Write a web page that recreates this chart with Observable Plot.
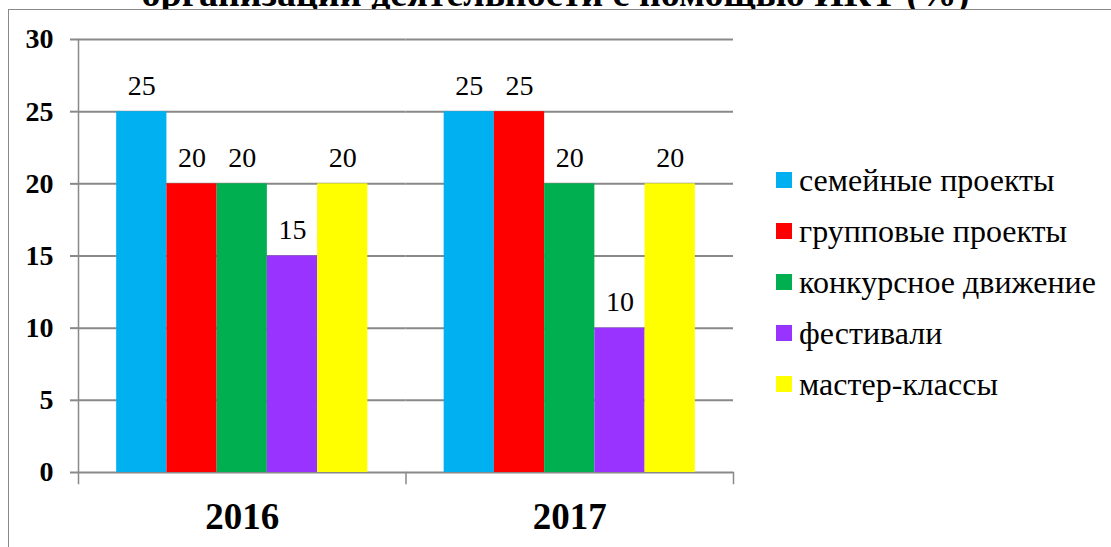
<!DOCTYPE html>
<html><head><meta charset="utf-8">
<script src="https://cdn.jsdelivr.net/npm/d3@7"></script>
<script src="https://cdn.jsdelivr.net/npm/@observablehq/plot@0.6"></script>
<style>
body{margin:0;background:#fff;width:1111px;height:547px;overflow:hidden;position:relative;font-family:"Liberation Serif";}
#title{position:absolute;left:0;width:1111px;top:-26px;text-align:center;font-family:"Liberation Serif";font-weight:bold;font-size:38px;line-height:1;white-space:nowrap;color:#000;}
#frame{position:absolute;left:8px;top:9px;width:1200px;height:600px;border:1px solid #898989;background:#fff;}
#chart{position:absolute;left:0;top:0;}
#legend{position:absolute;left:776px;top:154px;font-family:"Liberation Serif";}
.row{display:flex;align-items:center;height:51px;font-size:32px;line-height:1;white-space:nowrap;color:#000;font-family:"Liberation Serif";}
.sw{width:16px;height:16px;margin-right:7px;flex:none;}
</style>
</head><body>
<div id="title">организации деятельности с помощью ИКТ (%)</div>
<div id="frame"></div>
<div id="chart"></div>
<div id="legend"></div>
<script>
const years = ["2016", "2017"];
const series = ["семейные проекты", "групповые проекты", "конкурсное движение", "фестивали", "мастер-классы"];
const colors = ["#00B0F0", "#FF0000", "#00B050", "#9933FF", "#FFFF00"];
const values2016 = [25, 20, 20, 15, 20];
const values2017 = [25, 25, 20, 10, 20];
const yTicks = [0, 5, 10, 15, 20, 25, 30];

const valuesByYear = {"2016": values2016, "2017": values2017};
const data = [];
years.forEach(yr => series.forEach((s, j) => data.push({year: yr, series: s, value: valuesByYear[yr][j]})));

const W = 1111, H = 547, mL = 78, mR = 378, mT = 39, mB = 75;
const plotH = H - mT - mB;
const gray = "#898989";
const serif = "Liberation Serif";

const chart = Plot.plot({
  width: W, height: H,
  marginLeft: mL, marginRight: mR, marginTop: mT, marginBottom: mB,
  style: {fontFamily: "'Liberation Serif'", background: "transparent", overflow: "visible", color: "#000"},
  fx: {domain: years, padding: 0, round: false, label: null},
  x: {domain: series, paddingInner: 0, paddingOuter: 0.76, round: false, axis: null},
  y: {domain: [0, 30], label: null},
  color: {domain: series, range: colors},
  marks: [
    Plot.gridY(yTicks, {stroke: gray, strokeOpacity: 1, strokeWidth: 2}),
    Plot.axisY(yTicks, {tickSize: 8, tickPadding: 17, stroke: gray, strokeWidth: 2, strokeOpacity: 1, fontSize: 28, fontWeight: "bold", fontFamily: serif, fill: "#000", label: null}),
    Plot.barY(data, {fx: "year", x: "series", y: "value", fill: "series"}),
    Plot.frame({anchor: "left", facet: "super", stroke: gray, strokeWidth: 1.5, insetBottom: -11}),
    Plot.frame({anchor: "right", stroke: gray, strokeWidth: 1.5, insetTop: plotH, insetBottom: -11}),
    Plot.text(data, {fx: "year", x: "series", y: "value", text: d => String(d.value), lineAnchor: "bottom", dy: -17, fontSize: 28, fontFamily: serif, fill: "#000"}),
    Plot.axisFx({anchor: "bottom", tickSize: 0, tickPadding: 30, fontSize: 37, fontWeight: "bold", fontFamily: serif, fill: "#000", label: null})
  ]
});
document.getElementById("chart").appendChild(chart);

const legend = d3.select("#legend");
series.forEach((s, i) => {
  const row = legend.append("div").attr("class", "row");
  row.append("div").attr("class", "sw").style("background", colors[i]);
  row.append("span").style("font-family", "'Liberation Serif'").text(s);
});
</script>
</body></html>
